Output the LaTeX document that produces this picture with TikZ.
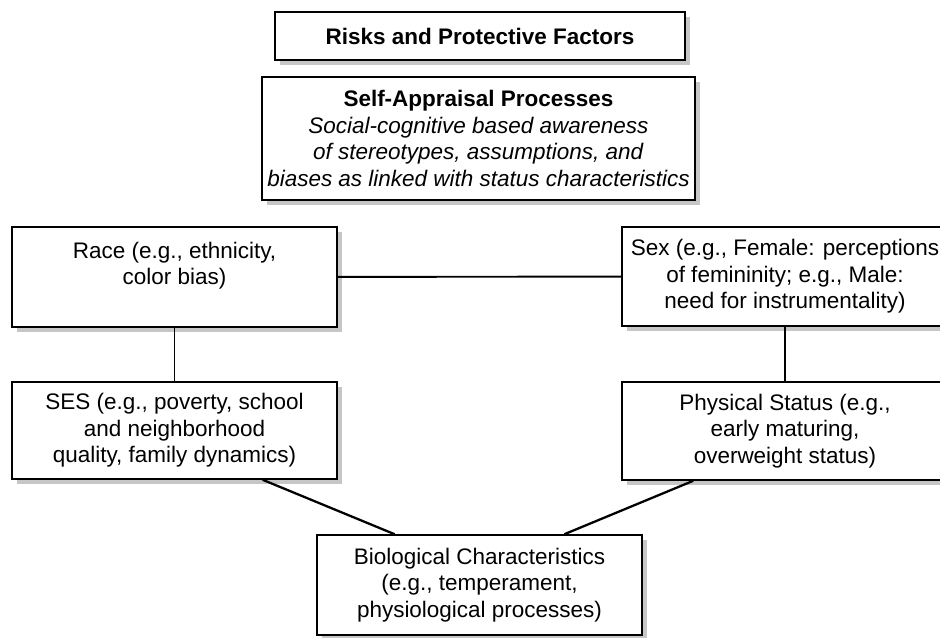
\documentclass[tikz,border=0pt]{standalone}
\usepackage{fontspec}
\setmainfont{Liberation Sans}
\usetikzlibrary{positioning,calc,shadows}

\tikzset{
  factor/.style={draw,line width=0.9pt,fill=white,align=center,inner sep=3pt,
    font=\fontsize{12.8}{15}\selectfont,
    drop shadow={shadow xshift=0.1cm,shadow yshift=-0.1cm,fill=gray!45,opacity=1}},
  link/.style={-,line width=1.1pt},
}

\begin{document}
\begin{tikzpicture}[x=0.02cm,y=-0.02cm]
\useasboundingbox (0,0) rectangle (940,638);

\node[factor,minimum width=8.2cm,minimum height=0.96cm](risk) at (480,36)
  {\textbf{Risks and Protective Factors}};
\node[factor,minimum width=8.66cm,minimum height=2.46cm](self) at (478.5,138.5)
  {\textbf{Self-Appraisal Processes}\\
   \textit{Social-cognitive based awareness}\\
   \textit{of stereotypes, assumptions, and}\\
   \textit{biases as linked with status characteristics}};

\node[factor,minimum width=6.5cm,minimum height=2cm](race) at (174.5,277)
  {Race (e.g., ethnicity,\\ color bias)\\[-4pt] \strut};
\node[factor,minimum width=6.52cm,minimum height=1.98cm](sex) at (785,276.5)
  {Sex (e.g., Female: perceptions\\ of femininity; e.g., Male:\\ need for instrumentality)};
\node[factor,minimum width=6.5cm,minimum height=1.94cm](ses) at (174.5,430.5)
  {SES (e.g., poverty, school\\ and neighborhood\\ quality, family dynamics)};
\node[factor,minimum width=6.52cm,minimum height=1.96cm](phys) at (785,431)
  {Physical Status (e.g.,\\ early maturing,\\ overweight status)};
\node[factor,minimum width=6.5cm,minimum height=2cm](bio) at (479.5,585)
  {Biological Characteristics\\ (e.g., temperament,\\ physiological processes)};

\draw[link](race)--(sex);
\foreach \x/\y in {race/ses,sex/phys}
  \draw[link](\x.south)--(\y.north);
\draw[link,line width=1.3pt]($(ses.south west)!0.77!(ses.south east)$)--($(bio.north west)!0.24!(bio.north east)$);
\draw[link,line width=1.3pt]($(phys.south west)!0.22!(phys.south east)$)--($(bio.north west)!0.76!(bio.north east)$);

\end{tikzpicture}
\end{document}
